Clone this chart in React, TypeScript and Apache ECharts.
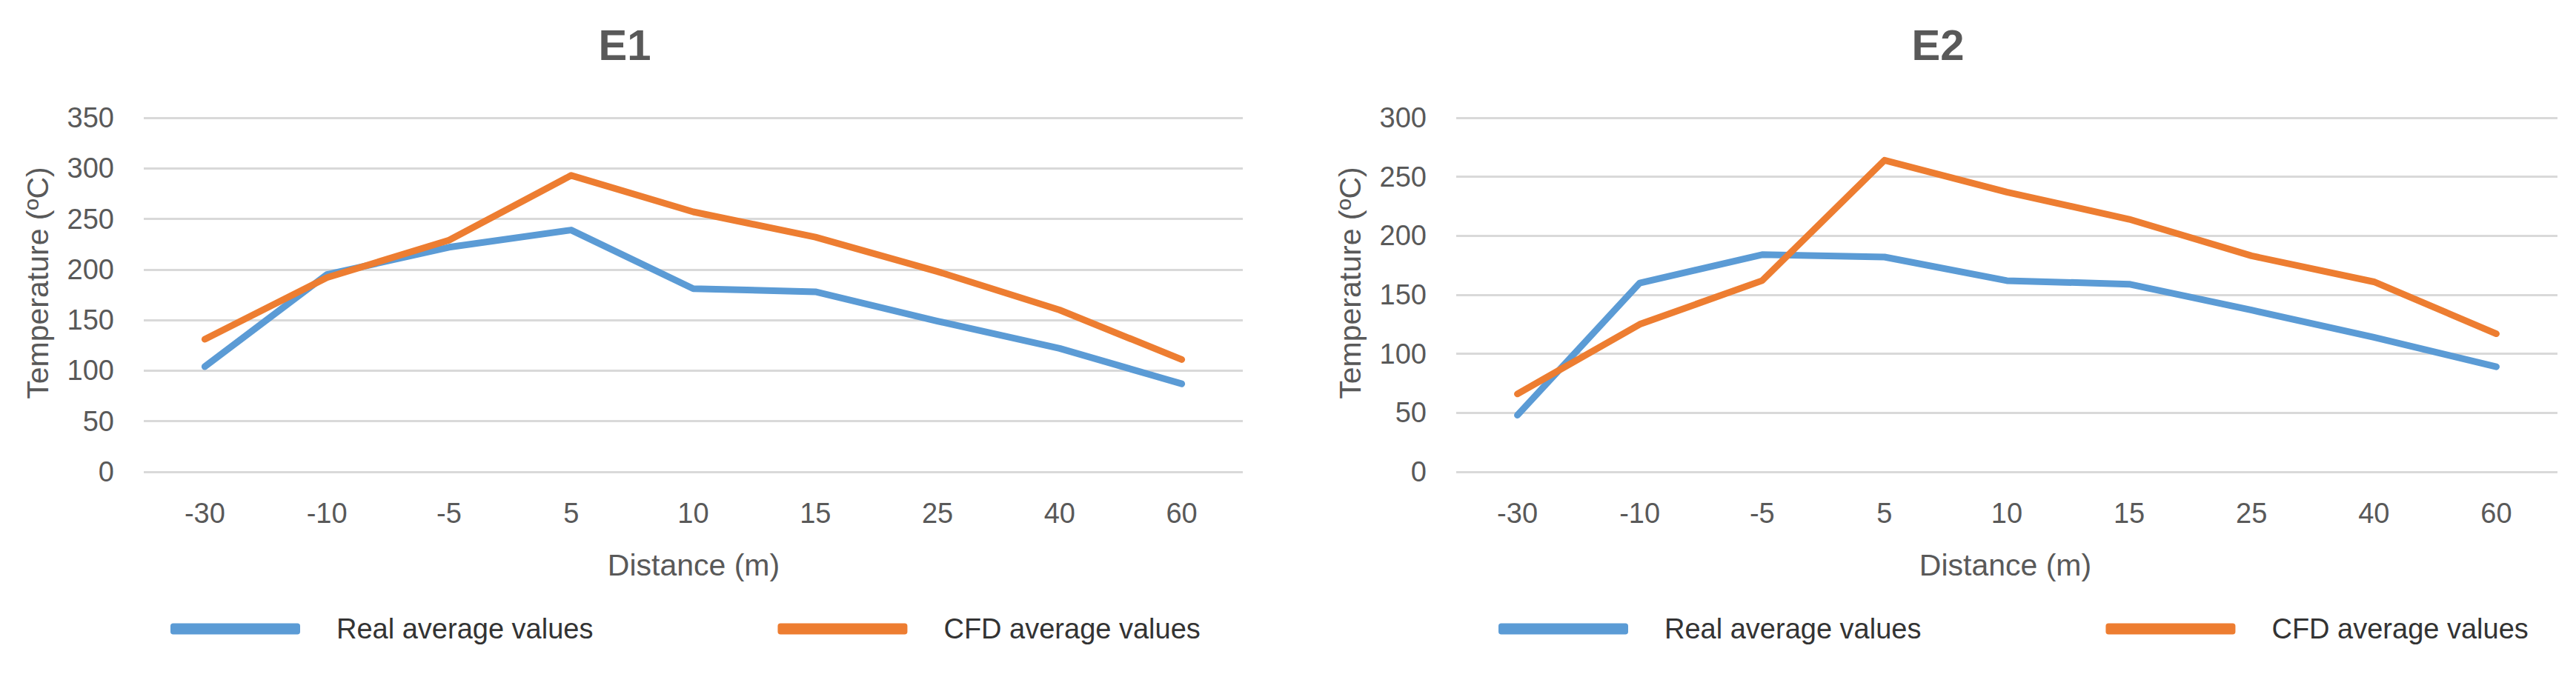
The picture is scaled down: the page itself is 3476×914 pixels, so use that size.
import React, { useEffect, useRef } from "react";
import * as echarts from "echarts";

const categories = ["-30", "-10", "-5", "5", "10", "15", "25", "40", "60"];
const e1Real = [104, 195, 222, 239, 181, 178, 149, 122, 87];
const e1Cfd = [131, 192, 229, 293, 257, 232, 198, 160, 111];
const e2Real = [48, 160, 184, 182, 162, 159, 137, 114, 89];
const e2Cfd = [66, 125, 162, 264, 237, 214, 183, 161, 117];
const panelTitles = ["E1", "E2"];
const yMaxes = [350, 300];
const yInterval = 50;
const seriesNames = ["Real average values", "CFD average values"];
const xAxisTitle = "Distance (m)";
const yAxisTitle = "Temperature (ºC)";

const FONT = "'Liberation Sans', Arial, sans-serif";
const BLUE = "#5B9BD5";
const ORANGE = "#ED7D31";
const GREY = "#595959";

export default function App() {
  const ref = useRef<HTMLDivElement>(null);

  useEffect(() => {
    if (!ref.current) return;
    const chart = echarts.init(ref.current, null, { renderer: "svg" });

    const grids = [
      { left: 194, top: 159, width: 1483, height: 478 },
      { left: 1965, top: 159, width: 1486, height: 478 },
    ];
    const panels = [
      { real: e1Real, cfd: e1Cfd, titleX: 843, yTitleX: 51, xTitleX: 936, legendLeft: 225 },
      { real: e2Real, cfd: e2Cfd, titleX: 2615, yTitleX: 1822, xTitleX: 2706, legendLeft: 2017 },
    ];

    const xAxes = grids.map((_, i) => ({
      type: "category",
      gridIndex: i,
      data: categories,
      boundaryGap: true,
      axisLine: { show: false },
      axisTick: { show: false },
      axisLabel: {
        fontSize: 38,
        fontFamily: FONT,
        color: GREY,
        verticalAlign: "middle",
        margin: 56,
      },
    }));

    const yAxes = grids.map((_, i) => ({
      type: "value",
      gridIndex: i,
      min: 0,
      max: yMaxes[i],
      interval: yInterval,
      axisLine: { show: false },
      axisTick: { show: false },
      axisLabel: {
        fontSize: 38,
        fontFamily: FONT,
        color: GREY,
        margin: 40,
      },
      splitLine: { lineStyle: { color: "#d9d9d9", width: 3 } },
    }));

    const series: any[] = [];
    panels.forEach((p, i) => {
      series.push({
        name: seriesNames[0],
        type: "line",
        xAxisIndex: i,
        yAxisIndex: i,
        data: p.real,
        symbol: "none",
        lineStyle: { color: BLUE, width: 9, cap: "round", join: "round" },
        itemStyle: { color: BLUE },
        z: 2,
      });
      series.push({
        name: seriesNames[1],
        type: "line",
        xAxisIndex: i,
        yAxisIndex: i,
        data: p.cfd,
        symbol: "none",
        lineStyle: { color: ORANGE, width: 9, cap: "round", join: "round" },
        itemStyle: { color: ORANGE },
        z: 3,
      });
    });

    const legends = panels.map((p) => ({
      left: p.legendLeft,
      top: 824,
      data: seriesNames,
      icon: "roundRect",
      itemWidth: 175,
      itemHeight: 15,
      itemGap: 249,
      selectedMode: false,
      textStyle: {
        fontSize: 38,
        lineHeight: 40,
        fontFamily: FONT,
        color: "#333333",
        padding: [0, 0, 0, 44],
      },
    }));

    const graphics: any[] = [];
    panels.forEach((p, i) => {
      graphics.push({
        type: "text",
        x: p.titleX,
        y: 60,
        style: {
          text: panelTitles[i],
          fontSize: 58,
          fontWeight: "bold",
          fontFamily: FONT,
          fill: GREY,
          align: "center",
          verticalAlign: "middle",
        },
      });
      graphics.push({
        type: "text",
        x: p.yTitleX,
        y: 382,
        rotation: Math.PI / 2,
        style: {
          text: yAxisTitle,
          fontSize: 41,
          fontFamily: FONT,
          fill: GREY,
          align: "center",
          verticalAlign: "middle",
        },
      });
      graphics.push({
        type: "text",
        x: p.xTitleX,
        y: 763,
        style: {
          text: xAxisTitle,
          fontSize: 41,
          fontFamily: FONT,
          fill: GREY,
          align: "center",
          verticalAlign: "middle",
        },
      });
    });

    chart.setOption({
      animation: false,
      backgroundColor: "#ffffff",
      grid: grids,
      xAxis: xAxes,
      yAxis: yAxes,
      legend: legends,
      series,
      graphic: graphics,
    });

    return () => {
      chart.dispose();
    };
  }, []);

  return (
    <div
      ref={ref}
      style={{ position: "fixed", left: 0, top: 0, width: "3476px", height: "914px" }}
    />
  );
}
